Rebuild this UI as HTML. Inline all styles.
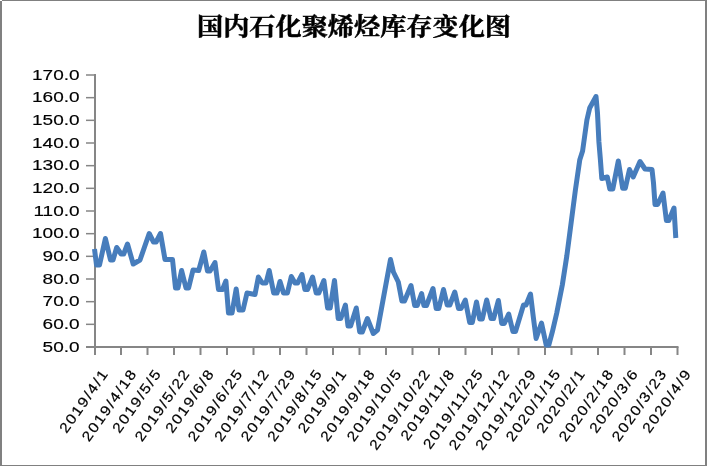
<!DOCTYPE html>
<html lang="zh-CN">
<head>
<meta charset="utf-8">
<title>国内石化聚烯烃库存变化图</title>
<style>
html,body{margin:0;padding:0;background:#fff;}
body{width:708px;height:466px;overflow:hidden;position:relative;}
svg{position:absolute;left:0;top:0;display:block;}
.t{font-family:"Liberation Serif","Noto Serif CJK SC","Noto Sans CJK SC",serif;font-weight:700;font-size:24px;fill:#000;stroke:#000;stroke-width:0.5px;}
.y{font-family:"Liberation Sans","DejaVu Sans",sans-serif;font-size:15.1px;fill:#000;text-anchor:end;stroke:#000;stroke-width:0.15px;}
.x{font-family:"Liberation Sans","DejaVu Sans",sans-serif;font-size:14.2px;fill:#000;text-anchor:end;letter-spacing:1.4px;stroke:#000;stroke-width:0.2px;}
</style>
</head>
<body>
<svg width="708" height="466" viewBox="0 0 708 466">
<rect x="0" y="0" width="708" height="466" fill="#fff"/>
<!-- frame -->
<rect x="2" y="0" width="705" height="1" fill="#808080"/>
<rect x="0" y="1" width="2" height="465" fill="#808080"/>
<rect x="705" y="1" width="2" height="465" fill="#808080"/>
<rect x="0" y="465" width="707" height="1" fill="#808080"/>
<!-- title -->
<text class="t" x="354" y="35" text-anchor="middle" textLength="314" lengthAdjust="spacingAndGlyphs">国内石化聚烯烃库存变化图</text>
<!-- axes -->
<g fill="#868686">
<rect x="94.0" y="74.0" width="2" height="281.0"/>
<rect x="86.0" y="346.0" width="592.5" height="2"/>

<rect x="86.0" y="74.25" width="9" height="1.5"/>
<rect x="86.0" y="96.92" width="9" height="1.5"/>
<rect x="86.0" y="119.58" width="9" height="1.5"/>
<rect x="86.0" y="142.25" width="9" height="1.5"/>
<rect x="86.0" y="164.92" width="9" height="1.5"/>
<rect x="86.0" y="187.58" width="9" height="1.5"/>
<rect x="86.0" y="210.25" width="9" height="1.5"/>
<rect x="86.0" y="232.92" width="9" height="1.5"/>
<rect x="86.0" y="255.58" width="9" height="1.5"/>
<rect x="86.0" y="278.25" width="9" height="1.5"/>
<rect x="86.0" y="300.92" width="9" height="1.5"/>
<rect x="86.0" y="323.58" width="9" height="1.5"/>
<rect x="120.00" y="347.0" width="2" height="8"/>
<rect x="146.50" y="347.0" width="2" height="8"/>
<rect x="173.00" y="347.0" width="2" height="8"/>
<rect x="199.50" y="347.0" width="2" height="8"/>
<rect x="226.00" y="347.0" width="2" height="8"/>
<rect x="252.50" y="347.0" width="2" height="8"/>
<rect x="279.00" y="347.0" width="2" height="8"/>
<rect x="305.50" y="347.0" width="2" height="8"/>
<rect x="332.00" y="347.0" width="2" height="8"/>
<rect x="358.50" y="347.0" width="2" height="8"/>
<rect x="385.00" y="347.0" width="2" height="8"/>
<rect x="411.50" y="347.0" width="2" height="8"/>
<rect x="438.00" y="347.0" width="2" height="8"/>
<rect x="464.50" y="347.0" width="2" height="8"/>
<rect x="491.00" y="347.0" width="2" height="8"/>
<rect x="517.50" y="347.0" width="2" height="8"/>
<rect x="544.00" y="347.0" width="2" height="8"/>
<rect x="570.50" y="347.0" width="2" height="8"/>
<rect x="597.00" y="347.0" width="2" height="8"/>
<rect x="623.50" y="347.0" width="2" height="8"/>
<rect x="650.00" y="347.0" width="2" height="8"/>
<rect x="676.50" y="347.0" width="2" height="8"/>
</g>
<!-- y labels -->
<text class="y" transform="translate(79.6,79.70) scale(1.26,1)">170.0</text>
<text class="y" transform="translate(79.6,102.37) scale(1.26,1)">160.0</text>
<text class="y" transform="translate(79.6,125.03) scale(1.26,1)">150.0</text>
<text class="y" transform="translate(79.6,147.70) scale(1.26,1)">140.0</text>
<text class="y" transform="translate(79.6,170.37) scale(1.26,1)">130.0</text>
<text class="y" transform="translate(79.6,193.03) scale(1.26,1)">120.0</text>
<text class="y" transform="translate(79.6,215.70) scale(1.26,1)">110.0</text>
<text class="y" transform="translate(79.6,238.37) scale(1.26,1)">100.0</text>
<text class="y" transform="translate(79.6,261.03) scale(1.26,1)">90.0</text>
<text class="y" transform="translate(79.6,283.70) scale(1.26,1)">80.0</text>
<text class="y" transform="translate(79.6,306.37) scale(1.26,1)">70.0</text>
<text class="y" transform="translate(79.6,329.03) scale(1.26,1)">60.0</text>
<text class="y" transform="translate(79.6,351.70) scale(1.26,1)">50.0</text>
<!-- x labels -->
<text class="x" transform="translate(109.20,373.00) rotate(-55) scale(1.12,1)">2019/4/1</text>
<text class="x" transform="translate(137.70,373.00) rotate(-55) scale(1.12,1)">2019/4/18</text>
<text class="x" transform="translate(162.20,373.00) rotate(-55) scale(1.12,1)">2019/5/5</text>
<text class="x" transform="translate(190.70,373.00) rotate(-55) scale(1.12,1)">2019/5/22</text>
<text class="x" transform="translate(215.20,373.00) rotate(-55) scale(1.12,1)">2019/6/8</text>
<text class="x" transform="translate(243.70,373.00) rotate(-55) scale(1.12,1)">2019/6/25</text>
<text class="x" transform="translate(270.20,373.00) rotate(-55) scale(1.12,1)">2019/7/12</text>
<text class="x" transform="translate(296.70,373.00) rotate(-55) scale(1.12,1)">2019/7/29</text>
<text class="x" transform="translate(323.20,373.00) rotate(-55) scale(1.12,1)">2019/8/15</text>
<text class="x" transform="translate(347.70,373.00) rotate(-55) scale(1.12,1)">2019/9/1</text>
<text class="x" transform="translate(376.20,373.00) rotate(-55) scale(1.12,1)">2019/9/18</text>
<text class="x" transform="translate(402.70,373.00) rotate(-55) scale(1.12,1)">2019/10/5</text>
<text class="x" transform="translate(431.20,373.00) rotate(-55) scale(1.12,1)">2019/10/22</text>
<text class="x" transform="translate(455.70,373.00) rotate(-55) scale(1.12,1)">2019/11/8</text>
<text class="x" transform="translate(484.20,373.00) rotate(-55) scale(1.12,1)">2019/11/25</text>
<text class="x" transform="translate(510.70,373.00) rotate(-55) scale(1.12,1)">2019/12/12</text>
<text class="x" transform="translate(537.20,373.00) rotate(-55) scale(1.12,1)">2019/12/29</text>
<text class="x" transform="translate(561.70,373.00) rotate(-55) scale(1.12,1)">2020/1/15</text>
<text class="x" transform="translate(586.20,373.00) rotate(-55) scale(1.12,1)">2020/2/1</text>
<text class="x" transform="translate(614.70,373.00) rotate(-55) scale(1.12,1)">2020/2/18</text>
<text class="x" transform="translate(639.20,373.00) rotate(-55) scale(1.12,1)">2020/3/6</text>
<text class="x" transform="translate(667.70,373.00) rotate(-55) scale(1.12,1)">2020/3/23</text>
<text class="x" transform="translate(692.20,373.00) rotate(-55) scale(1.12,1)">2020/4/9</text>
<!-- series -->
<polyline fill="none" stroke="#477dbc" stroke-width="5" stroke-linejoin="round" stroke-linecap="butt" points="94.5,249 96.5,265 99.5,265 105.4,238.5 110.5,260 113,260 116.7,247.5 121.1,254 123.7,254 127.5,244 133.2,264 140,260 149.2,233.5 153.5,242 156.1,242 160.5,233.5 165,259.5 172.5,259.5 175.5,288 178,288 181.6,270.5 186,288 188.6,288 193,270 198.7,270.5 203.8,252 207.5,271 210,271 215,262.5 218.5,289.5 222.5,289.5 225.9,281 228.5,313 232,313 236.2,289 239,310 243,310 247,293 255,294.5 258.4,277 262.3,283 266,283 269.2,270.5 273.7,293 277,293 280,281.5 283.5,293 287.4,293 291.3,276.5 295,283 297.6,283 302,274.5 304.9,289.5 307.5,289.5 312.6,277 316.2,293 318.8,293 323.9,280.5 327.6,308 330.2,308 334.5,280.5 338.2,318.5 340.8,318.5 345.4,305 348,326 350.6,326 356.3,308 359.7,332 362.3,332 367.4,318.5 373.3,333.5 377.5,330 390.5,259.5 393.4,272 398.3,282 401.9,301 404.5,301 411,285.5 414.7,305.5 417.3,305.5 421.6,293.5 423.9,305.5 426.5,305.5 433,288.5 436.2,308.5 438.8,308.5 443.5,289.5 447.2,305 449.8,305 454.8,292 458.5,308.5 461.1,308.5 465.3,300 469.7,322.5 472.3,322.5 476.5,302 479.7,319 482.3,319 486.7,300 491,318.5 493.6,318.5 498.4,300.5 501.7,323.5 504.3,323.5 508.7,314 512.9,331.5 515.5,331.5 523.5,305 526,305 530.5,294 533.3,317 536.1,338.5 541.5,323 546.2,345 548.8,345 552.4,331.7 556.7,313.3 562.3,285 566.8,256 575.4,190 579.8,159.7 582.6,151 586.9,120 589.7,108 596,96.5 597.5,113.3 598.9,141.7 600.4,159.7 601.8,178.5 607.3,177 609.8,189 612.8,189 618.3,161 622.7,188.3 625.3,188.3 629.5,169.5 633.2,177 640,161.5 645,169 652,169.5 653.5,183 655,204.5 657.6,204.5 663,193 666.4,220.5 668.8,220.5 674,208 675.8,238"/>
</svg>
</body>
</html>
